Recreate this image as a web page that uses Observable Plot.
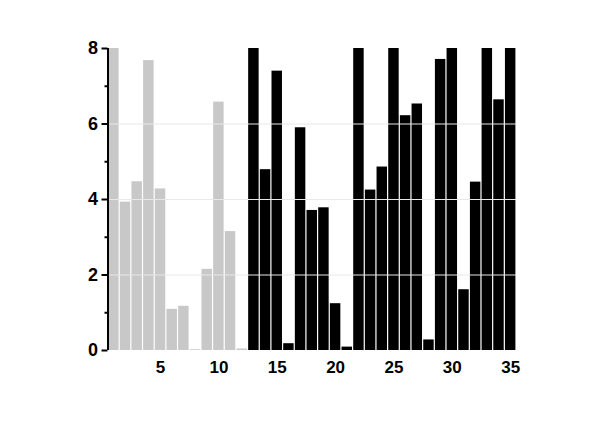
<!DOCTYPE html>
<html>
<head>
<meta charset="utf-8">
<script src="https://cdn.jsdelivr.net/npm/d3@7"></script>
<script src="https://cdn.jsdelivr.net/npm/@observablehq/plot@0.6"></script>
<style>
  html, body { margin: 0; padding: 0; background: #fff; }
  svg { display: block; }
</style>
</head>
<body>
<div id="chart"></div>
<script>
const positions = [1,2,3,4,5,6,7,8,9,10,11,12,13,14,15,16,17,18,19,20,21,22,23,24,25,26,27,28,29,30,31,32,33,34,35];
const values = [8,3.93,4.47,7.68,4.28,1.09,1.17,0.02,2.15,6.58,3.15,0.04,
                8,4.79,7.4,0.18,5.9,3.71,3.78,1.24,0.09,8,4.25,4.86,8,6.22,6.53,0.28,7.71,8,1.61,4.46,8,6.64,8];
const groups = ["A","A","A","A","A","A","A","A","A","A","A","A",
                "B","B","B","B","B","B","B","B","B","B","B","B","B","B","B","B","B","B","B","B","B","B","B"];
const yMajorTicks = [0,2,4,6,8];
const yMinorTicks = [1,3,5,7];
const xTicks = [5,10,15,20,25,30,35];

const data = positions.map((p, i) => ({x: p, v: values[i], g: groups[i]}));
const font = "Liberation Sans, Arial, sans-serif";

const chart = Plot.plot({
  width: 600,
  height: 421,
  marginLeft: 107.5,
  marginRight: 84,
  marginTop: 48,
  marginBottom: 71,
  style: {fontFamily: font, fontWeight: "bold", fontSize: "16px", background: "#fff"},
  x: {domain: [0.5, 35.5]},
  y: {domain: [0, 8]},
  color: {domain: ["A","B"], range: ["#c8c8c8", "#000000"]},
  marks: [
    Plot.rectY(data, {x1: d => d.x - 0.5, x2: d => d.x + 0.5, y: "v", fill: "g", insetLeft: 0.6, insetRight: 0.6}),
    Plot.ruleY([2,4,6], {stroke: "#e8e8e8", strokeWidth: 1}),
    Plot.ruleX([0.5], {y1: 0, y2: 8, stroke: "#000", strokeWidth: 2}),
    Plot.axisY({ticks: yMajorTicks, tickSize: 6, tickPadding: 4, label: null, strokeWidth: 2, fontSize: 18, fill: "#000"}),
    Plot.axisY({ticks: yMinorTicks, tickSize: 3, text: null, label: null, strokeWidth: 2}),
    Plot.axisX({ticks: xTicks, tickSize: 0, tickPadding: 10, label: null, fontSize: 17, fill: "#000"})
  ]
});
document.getElementById("chart").appendChild(chart);
</script>
</body>
</html>
